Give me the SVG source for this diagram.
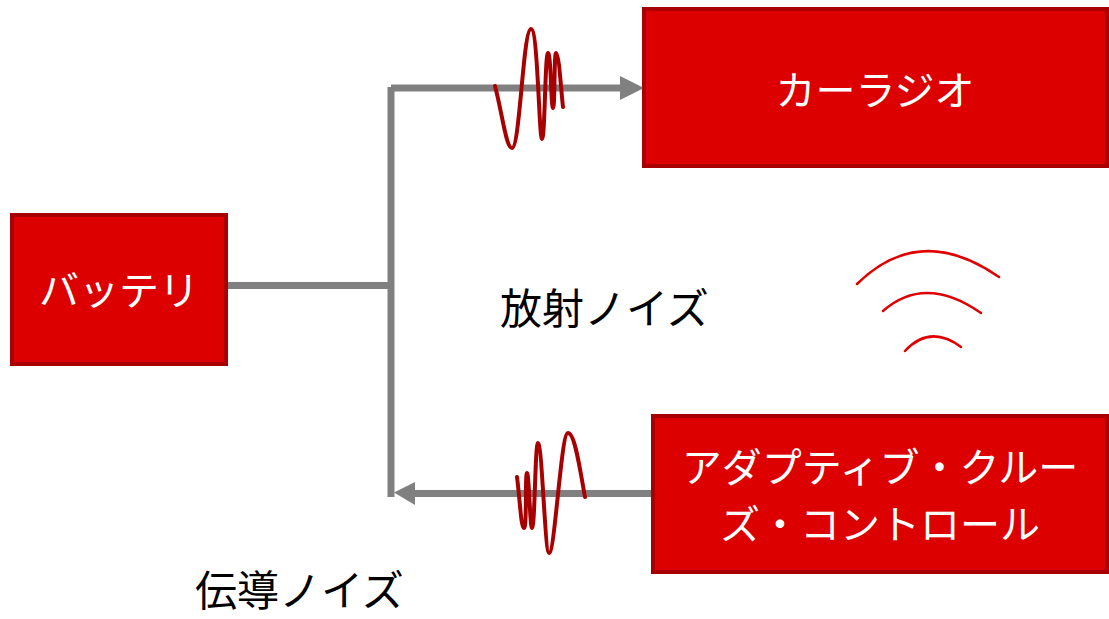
<svg xmlns="http://www.w3.org/2000/svg" width="1109" height="619" viewBox="0 0 1109 619">
<style>
.box{fill:#DD0000;stroke:#A80000;stroke-width:4}
.lbl{fill:#FFFFFF;font-family:"Noto Sans CJK JP","Noto Sans",sans-serif;font-size:40px;text-anchor:middle}
.cap{fill:#000000;font-family:"Noto Sans CJK JP","Noto Sans",sans-serif;font-size:42px}
.wire{stroke:#808080;stroke-width:7;fill:none}
.wave{stroke:#A80000;stroke-width:4;fill:none;stroke-linecap:round;stroke-linejoin:round}
.arc{stroke:#E00000;stroke-width:2.5;fill:none;stroke-linecap:round}
</style>
<rect width="1109" height="619" fill="#FFFFFF"/>
<g id="connectors">
<line class="wire" x1="227" y1="285.5" x2="391" y2="285.5"/>
<line class="wire" x1="391" y1="87" x2="391" y2="497"/>
<line class="wire" x1="391" y1="88" x2="622" y2="88"/>
<polygon points="620,76 644,88 620,100" fill="#808080"/>
<line class="wire" x1="652" y1="493.5" x2="412" y2="493.5"/>
<polygon points="415,482 394,492.5 415,505" fill="#808080"/>
</g>
<g id="battery">
<rect class="box" x="12" y="215" width="214" height="149"/>
<text class="lbl" x="119" y="305" font-size="38">バッテリ</text>
</g>
<g id="car-radio">
<rect class="box" x="644" y="9" width="463" height="157"/>
<text class="lbl" x="875" y="105" font-size="43">カーラジオ</text>
</g>
<g id="acc">
<rect class="box" x="653" y="416" width="454" height="156"/>
<text class="lbl" x="880" y="482" font-size="41">アダプティブ・クルー</text>
<text class="lbl" x="880" y="539" font-size="41">ズ・コントロール</text>
</g>
<g id="noise-top">
<path class="wave" d="M495,86 C502,112 506,148 512,148 C520,148 523,29 531,29 C538,29 539,139 542,139 C545,139 545,53 548,53 C551,53 551,108 553,108 C555,108 554,53 556,53 C559,53 561,90 563,107"/>
</g>
<g id="noise-bottom">
<path class="wave" d="M517,477 C520,500 521,528 524,528 C527,528 525,473 527,473 C529,473 530,528 532,528 C535,528 535,443 538,443 C542,443 545,553 549,553 C555,553 561,433 568,433 C575,433 580,470 585,497"/>
</g>
<g id="radio-waves">
<path class="arc" d="M857,284 Q920,222 999,277"/>
<path class="arc" d="M883,311 Q925,274 981,313"/>
<path class="arc" d="M905,351 Q930,324 961,347"/>
</g>
<g id="labels">
<text class="cap" x="500" y="324">放射ノイズ</text>
<text class="cap" x="195" y="606">伝導ノイズ</text>
</g>
</svg>
